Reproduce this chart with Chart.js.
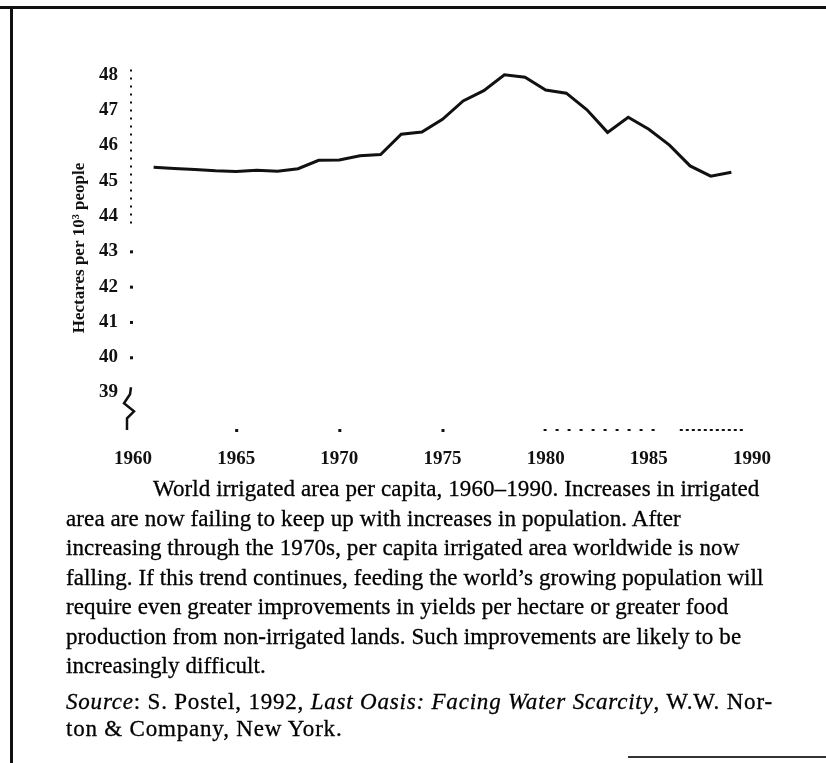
<!DOCTYPE html>
<html>
<head>
<meta charset="utf-8">
<script src="https://cdn.jsdelivr.net/npm/chart.js@4.4.0/dist/chart.umd.min.js"></script>
<style>
  html, body { margin: 0; padding: 0; background: #fff; }
  body { width: 826px; height: 763px; position: relative; overflow: hidden; font-family: "Liberation Serif", serif; color: #000; }
  #frameTop { position: absolute; left: 0; top: 6px; width: 826px; height: 3px; background: #111; }
  #frameLeft { position: absolute; left: 10px; top: 8px; width: 3px; height: 755px; background: #111; }
  #frameBottom { position: absolute; left: 628px; top: 756px; width: 198px; height: 2px; background: #333; }
  #chartBox { position: absolute; left: 0; top: 0; width: 826px; height: 480px; }
  #caption { position: absolute; left: 66px; top: 474px; font-size: 23px; letter-spacing: 0.1px; line-height: 29.5px; white-space: nowrap; -webkit-text-stroke: 0.3px #000; }
  #caption .indent { padding-left: 87px; }
  #source { margin-top: 7px; line-height: 27px; letter-spacing: 0.8px; }
</style>
</head>
<body>
<div id="frameTop"></div>
<div id="frameLeft"></div>
<div id="frameBottom"></div>
<div id="chartBox"><canvas id="myChart" width="826" height="480"></canvas></div>
<div id="caption">
  <div class="indent">World irrigated area per capita, 1960–1990. Increases in irrigated</div>
  <div>area are now failing to keep up with increases in population. After</div>
  <div>increasing through the 1970s, per capita irrigated area worldwide is now</div>
  <div>falling. If this trend continues, feeding the world’s growing population will</div>
  <div>require even greater improvements in yields per hectare or greater food</div>
  <div>production from non-irrigated lands. Such improvements are likely to be</div>
  <div>increasingly difficult.</div>
  <div id="source"><i>Source</i>: S. Postel, 1992, <i>Last Oasis: Facing Water Scarcity</i>, W.W. Nor-<br>ton &amp; Company, New York.</div>
</div>

<script>
// data
var years = [1961, 1962, 1963, 1964, 1965, 1966, 1967, 1968, 1969, 1970,
             1971, 1972, 1973, 1974, 1975, 1976, 1977, 1978, 1979, 1980,
             1981, 1982, 1983, 1984, 1985, 1986, 1987, 1988, 1989];
var hectares = [45.38, 45.35, 45.32, 45.28, 45.26, 45.30, 45.27, 45.34, 45.58, 45.59,
                45.71, 45.74, 46.32, 46.38, 46.74, 47.26, 47.55, 48.00, 47.93, 47.57,
                47.48, 47.01, 46.37, 46.80, 46.46, 46.01, 45.42, 45.13, 45.24];
var xTicks = [1960, 1965, 1970, 1975, 1980, 1985, 1990];
var yTicks = [39, 40, 41, 42, 43, 44, 45, 46, 47, 48];

var tickFont = { family: "Liberation Serif", size: 19, weight: "bold" };

// dotted axes and the axis-break squiggle of the scan
var scanAxes = {
    id: 'scanAxes',
    afterDraw: function (chart) {
        var ctx = chart.ctx;
        var x = chart.scales.x, y = chart.scales.y;
        var ax = chart.chartArea.left - 2;
        var bottom = chart.chartArea.bottom;
        ctx.save();
        ctx.fillStyle = '#111';
        ctx.strokeStyle = '#111';

        // y axis: dense dots on top, single dots lower down
        ctx.lineWidth = 2;
        ctx.setLineDash([2, 6]);
        ctx.beginPath();
        ctx.moveTo(ax, y.getPixelForValue(48.15));
        ctx.lineTo(ax, y.getPixelForValue(43.7));
        ctx.stroke();
        ctx.setLineDash([]);
        [43, 42, 41, 40].forEach(function (v) {
            ctx.fillRect(ax - 1, y.getPixelForValue(v) - 1, 3, 3);
        });

        // break squiggle under 39
        var y0 = y.getPixelForValue(39.15);
        ctx.lineWidth = 2.5;
        ctx.beginPath();
        ctx.moveTo(ax, y0);
        ctx.lineTo(ax - 1, y0 + 7);
        ctx.lineTo(ax - 7, y0 + 16);
        ctx.lineTo(ax + 3, y0 + 24);
        ctx.lineTo(ax - 4, y0 + 31);
        ctx.lineTo(ax - 4, bottom);
        ctx.stroke();

        // x axis: sparse dots, then dashes
        [1965, 1970, 1975].forEach(function (v) {
            ctx.fillRect(x.getPixelForValue(v) - 1, bottom - 1, 3, 3);
        });
        ctx.lineWidth = 2;
        ctx.setLineDash([3, 9]);
        ctx.beginPath();
        ctx.moveTo(x.getPixelForValue(1979.9), bottom);
        ctx.lineTo(x.getPixelForValue(1985.4), bottom);
        ctx.stroke();
        ctx.setLineDash([3, 3]);
        ctx.beginPath();
        ctx.moveTo(x.getPixelForValue(1986.5), bottom);
        ctx.lineTo(x.getPixelForValue(1989.6), bottom);
        ctx.stroke();
        ctx.restore();
    }
};

var ctx = document.getElementById('myChart');

new Chart(ctx, {
    type: 'line',
    data: {
        datasets: [{
            data: years.map(function (yr, i) { return { x: yr, y: hectares[i] }; }),
            borderColor: '#111',
            borderWidth: 3,
            pointRadius: 0,
            tension: 0,
            fill: false
        }]
    },
    options: {
        responsive: false,
        animation: false,
        layout: { padding: { left: 0, right: 74, top: 66, bottom: 0 } },
        plugins: { legend: { display: false }, tooltip: { enabled: false } },
        scales: {
            x: {
                type: 'linear',
                min: 1960,
                max: 1990,
                afterBuildTicks: function (s) { s.ticks = xTicks.map(function (v) { return { value: v }; }); },
                afterFit: function (s) { s.height = 50; },
                grid: { display: false, drawTicks: false },
                border: { display: false },
                ticks: {
                    font: tickFont, color: '#111', padding: 18,
                    maxRotation: 0, autoSkip: false,
                    callback: function (v) { return String(v); }
                }
            },
            y: {
                min: 37.94,
                max: 48.25,
                afterBuildTicks: function (s) { s.ticks = yTicks.map(function (v) { return { value: v }; }); },
                afterFit: function (s) { s.width = 133; },
                grid: { display: false, drawTicks: false },
                border: { display: false },
                ticks: { font: tickFont, color: '#111', padding: 15, autoSkip: false },
                title: {
                    display: true,
                    text: 'Hectares per 10³ people',
                    font: { family: "Liberation Serif", size: 17, weight: "bold" },
                    color: '#111',
                    padding: { top: 69, bottom: 0 }
                }
            }
        }
    },
    plugins: [scanAxes]
});
</script>
</body>
</html>
